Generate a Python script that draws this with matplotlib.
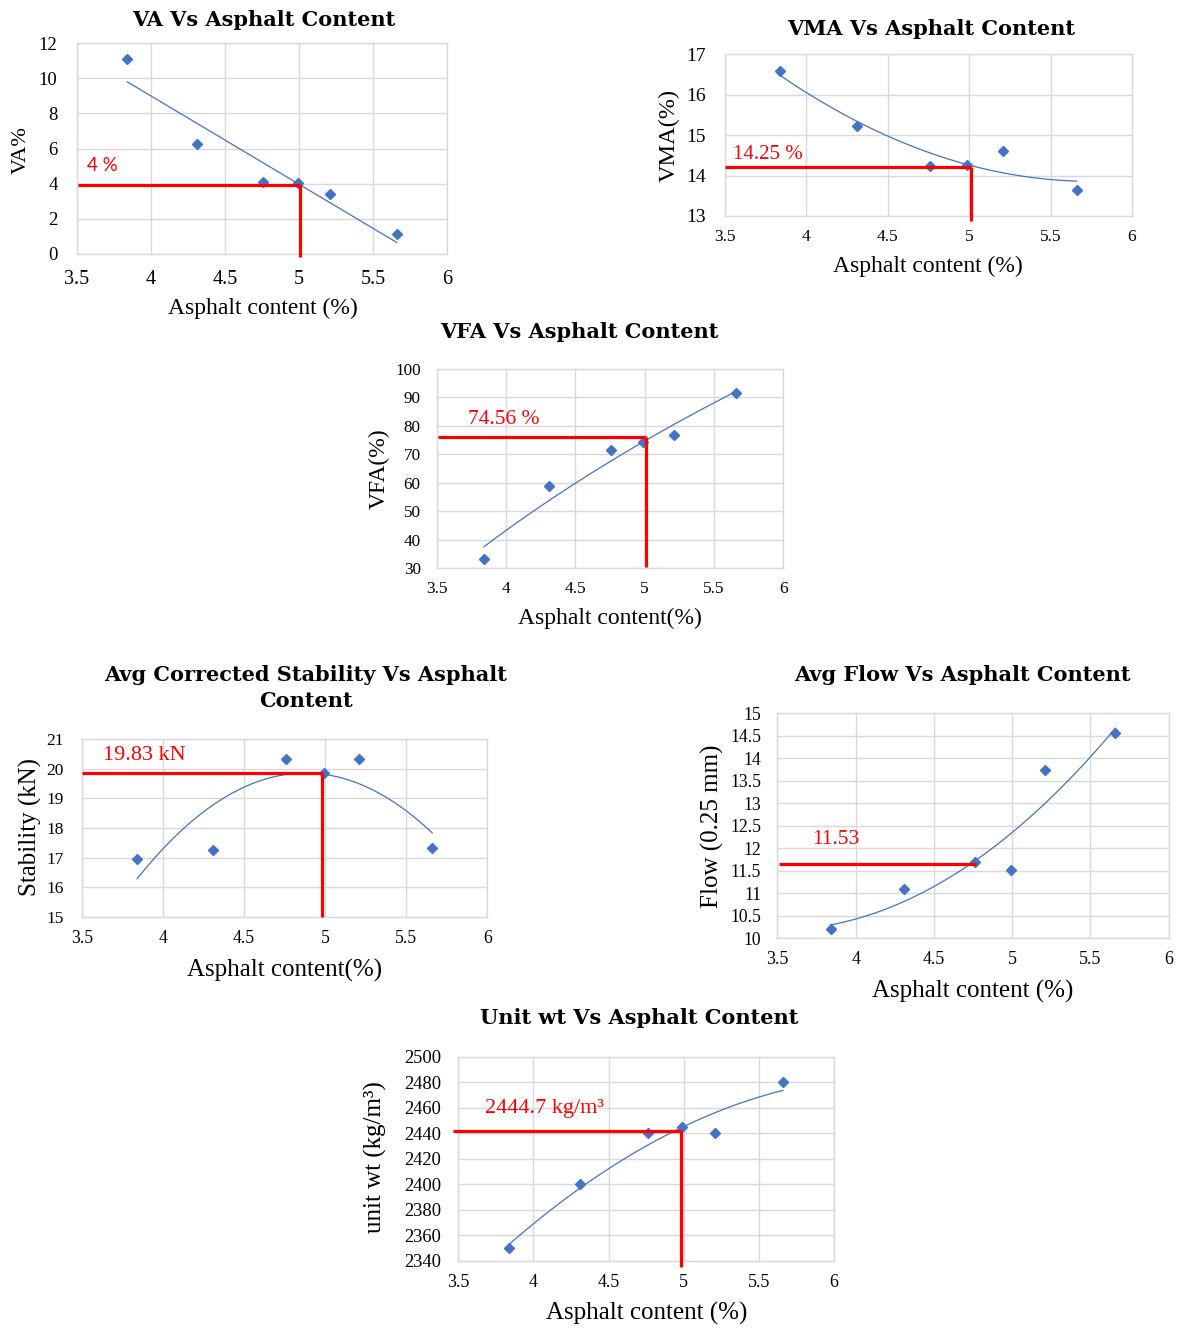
import numpy as np
import matplotlib
matplotlib.use("Agg")
import matplotlib.pyplot as plt
from matplotlib.ticker import FormatStrFormatter, MultipleLocator

# ---------------- data ----------------
asphalt = [3.84, 4.31, 4.76, 4.99, 5.21, 5.66]
va_vals = [11.07, 6.27, 4.08, 4.03, 3.40, 1.14]
vma_vals = [16.59, 15.23, 14.24, 14.27, 14.62, 13.64]
vfa_vals = [33.2, 58.8, 71.5, 74.4, 76.7, 91.6]
stab_vals = [16.94, 17.26, 20.33, 19.85, 20.33, 17.32]
flow_vals = [10.21, 11.10, 11.70, 11.52, 13.73, 14.56]
unitwt_vals = [2350, 2400, 2440, 2445, 2440, 2480]

# design values (red reference lines)
va_ref = (5.01, 3.93)
vma_ref = (5.01, 14.20)
vfa_ref = (5.01, 76.1)
stab_ref = (4.98, 19.85)
flow_ref = (4.77, 11.65)
unitwt_ref = (4.98, 2442.0)

va_lbl = "4 %"
vma_lbl = "14.25 %"
vfa_lbl = "74.56 %"
stab_lbl = "19.83 kN"
flow_lbl = "11.53"
unitwt_lbl = "2444.7 kg/m³"

W, H = 1188, 1331
fig = plt.figure(figsize=(W / 100, H / 100), dpi=100)
fig.patch.set_facecolor("white")

SERIF = "Liberation Serif"
TITLEFONT = "DejaVu Serif"
TITLESIZE = 15
BLUE = "#4472C4"
GRID = "#D9D9D9"
RED = "#FF0000"


def px_axes(l, t, r, b):
    return fig.add_axes([l / W, 1 - b / H, (r - l) / W, (b - t) / H])


def ftext(x, y, s, **kw):
    fig.text(x / W, 1 - y / H, s, **kw)


def trend(xa, ya, kind):
    xs = np.linspace(xa.min(), xa.max(), 200)
    if kind == "log":
        c = np.polyfit(np.log(xa), ya, 1)
        return xs, np.polyval(c, np.log(xs))
    c = np.polyfit(xa, ya, kind)
    return xs, np.polyval(c, xs)


def panel(box, yvals, kind, ylim, ystep, ref, vline_bottom, hstart,
          lbl, lblpos, lblfont, lblsize, xfs, yfs, xpad, ypad):
    ax = px_axes(*box)
    ax.set_xlim(3.5, 6)
    ax.set_ylim(*ylim)
    ax.xaxis.set_major_locator(MultipleLocator(0.5))
    ax.yaxis.set_major_locator(MultipleLocator(ystep))
    ax.xaxis.set_major_formatter(FormatStrFormatter("%g"))
    ax.yaxis.set_major_formatter(FormatStrFormatter("%g"))
    ax.grid(True, color=GRID, lw=1.0)
    ax.set_axisbelow(True)
    for s in ax.spines.values():
        s.set_color(GRID)
        s.set_linewidth(1.0)
    ax.tick_params(axis="x", length=0, pad=xpad, labelsize=xfs)
    ax.tick_params(axis="y", length=0, pad=ypad, labelsize=yfs)
    for t in ax.get_xticklabels() + ax.get_yticklabels():
        t.set_fontfamily(SERIF)
    xa = np.array(asphalt)
    ya = np.array(yvals)
    xs, ys = trend(xa, ya, kind)
    ax.plot(xs, ys, color=BLUE, lw=0.9, zorder=3)
    ax.plot(xa, ya, ls="none", marker="D", ms=5, color=BLUE, zorder=4)
    rx, ry = ref
    ax.plot([hstart, rx], [ry, ry], color=RED, lw=2.3, zorder=5,
            clip_on=False, solid_capstyle="butt")
    if vline_bottom is not None:
        ax.plot([rx, rx], [ry, vline_bottom], color=RED, lw=2.3, zorder=5,
                clip_on=False, solid_capstyle="butt")
    ax.text(lblpos[0], lblpos[1], lbl, color=RED, fontsize=lblsize,
            family=lblfont, ha="left", va="center", zorder=6)
    return ax


def title(x, y, s):
    ftext(x, y, s, ha="center", va="center", family=TITLEFONT,
          weight="bold", fontsize=TITLESIZE)


# VA
panel((77, 43, 447, 254), va_vals, 1, (0, 12), 2, va_ref, -0.17, 3.51,
      va_lbl, (3.57, 5.05), "Lato", 13.5, 14.5, 13.5, 11.5, 14)
title(264, 20, "VA Vs Asphalt Content")
ftext(21, 150, "VA%", ha="center", va="center", rotation=90,
      family=SERIF, fontsize=16)
ftext(262.5, 308, "Asphalt content (%)", ha="center", va="center",
      family=SERIF, fontsize=17)

# VMA
panel((724.5, 54.3, 1132, 216), vma_vals, 2, (13, 17), 1, vma_ref,
      12.88, 3.5, vma_lbl, (3.55, 14.51), SERIF, 15, 12.5, 14, 9.5, 13.5)
title(931.5, 29, "VMA Vs Asphalt Content")
ftext(669, 135, "VMA(%)", ha="center", va="center", rotation=90,
      family=SERIF, fontsize=17.5)
ftext(928, 266, "Asphalt content (%)", ha="center", va="center",
      family=SERIF, fontsize=17)

# VFA
panel((436.7, 369, 783.3, 568.3), vfa_vals, "log", (30, 100), 10, vfa_ref,
      30.5, 3.51, vfa_lbl, (3.728, 82.1), SERIF, 15.5, 12.5, 12.3, 9.5, 11.5)
title(579, 332.5, "VFA Vs Asphalt Content")
ftext(379, 468.5, "VFA(%)", ha="center", va="center", rotation=90,
      family=SERIF, fontsize=17)
ftext(610, 618, "Asphalt content(%)", ha="center", va="center",
      family=SERIF, fontsize=17)

# Stability
panel((82, 739.3, 487.3, 916.7), stab_vals, 2, (15, 21), 1, stab_ref,
      15, 3.5, stab_lbl, (3.631, 20.44), SERIF, 16, 12.7, 12.5, 9.5, 13.4)
title(306, 675, "Avg Corrected Stability Vs Asphalt")
title(306, 701.5, "Content")
ftext(30, 827.5, "Stability (kN)", ha="center", va="center", rotation=90,
      family=SERIF, fontsize=18)
ftext(285, 970, "Asphalt content(%)", ha="center", va="center",
      family=SERIF, fontsize=18)

# Flow
panel((777.3, 713.3, 1168.7, 938.3), flow_vals, 2, (10, 15), 0.5,
      flow_ref, None, 3.513, flow_lbl, (3.72, 12.2), SERIF, 15.5, 12.9, 12.7,
      9.5, 11.5)
title(962, 675, "Avg Flow Vs Asphalt Content")
ftext(712, 826, "Flow (0.25 mm)", ha="center", va="center", rotation=90,
      family=SERIF, fontsize=18)
ftext(973, 991, "Asphalt content (%)", ha="center", va="center",
      family=SERIF, fontsize=18)

# Unit wt
panel((458.3, 1056.7, 834, 1260.7), unitwt_vals, 2, (2340, 2500), 20,
      unitwt_ref, 2335.3, 3.467, unitwt_lbl, (3.678, 2459.5), SERIF, 16,
      12.9, 13.3, 9.5, 12.2)
title(639.5, 1018.5, "Unit wt Vs Asphalt Content")
ftext(375, 1157.5, "unit wt (kg/m³)", ha="center", va="center", rotation=90,
      family=SERIF, fontsize=18)
ftext(646.5, 1313, "Asphalt content (%)", ha="center", va="center",
      family=SERIF, fontsize=18)

fig.savefig("out.png", dpi=100, facecolor="white")
